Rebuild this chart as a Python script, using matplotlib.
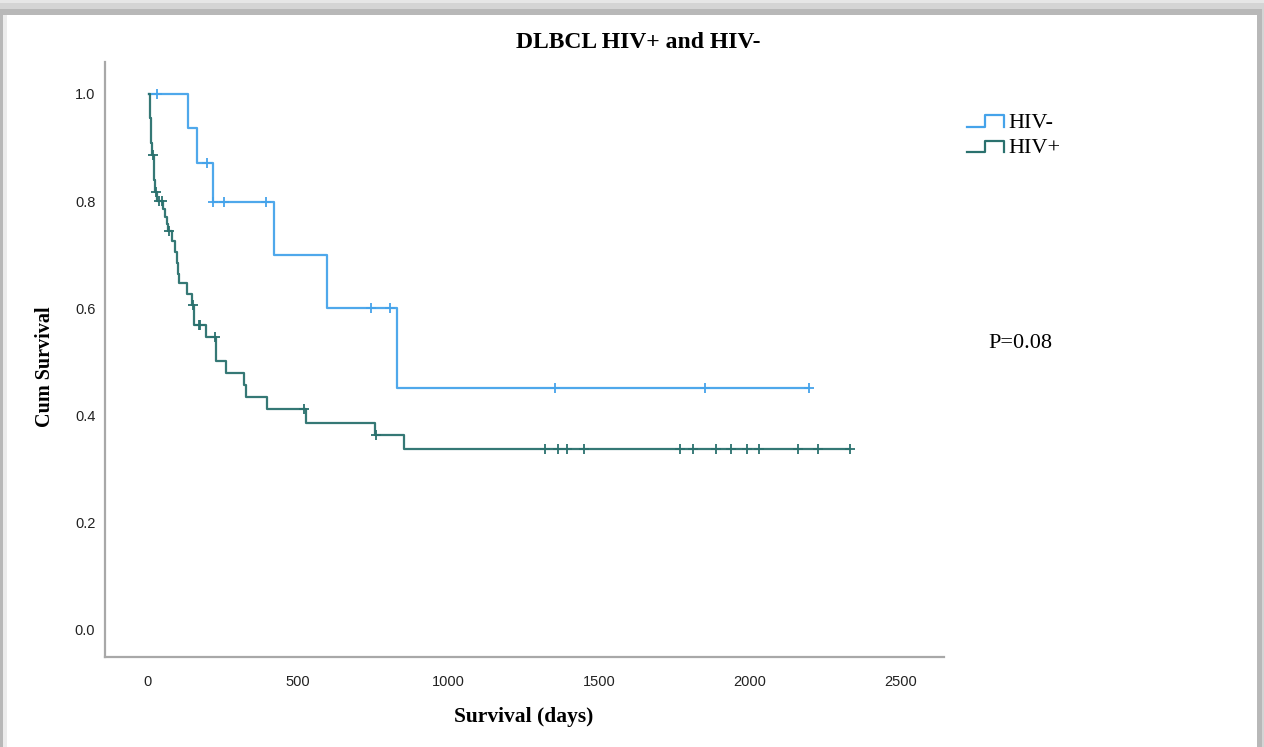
import matplotlib
matplotlib.use("Agg")
import matplotlib.pyplot as plt
from matplotlib.patches import Rectangle
from matplotlib.lines import Line2D
from matplotlib.legend_handler import HandlerBase
import numpy as np


# Kaplan-Meier steps: time of each drop (days) and survival level after it
neg_time = [5, 135, 166, 218, 419, 595, 827]
neg_surv = [1.0, 0.937, 0.871, 0.799, 0.70, 0.60, 0.451]
neg_cens = [30, 196, 218, 254, 392, 741, 805, 1353, 1851, 2196]

pos_time = [5, 7, 9, 11, 13, 16, 21, 23, 26, 32, 52, 58, 64, 69, 80, 90, 98,
            102, 106, 132, 148, 155, 195, 226, 259, 321, 326, 397, 527, 755, 850]
pos_surv = [1.0, 0.977, 0.955, 0.932, 0.909, 0.886, 0.863, 0.84, 0.817, 0.80,
            0.785, 0.77, 0.757, 0.745, 0.725, 0.705, 0.685, 0.665, 0.647,
            0.627, 0.606, 0.569, 0.547, 0.502, 0.479, 0.457, 0.435, 0.412,
            0.387, 0.364, 0.338]
pos_cens = [19, 27, 38, 47, 72, 150, 170, 174, 224, 519, 760,
            1318, 1364, 1393, 1448, 1768, 1812, 1888, 1938, 1990, 2029,
            2160, 2227, 2332]

groups = ["HIV-", "HIV+"]
colors = ["#45a3ea", "#2a716e"]


def survAt(times, surv, t):
	# level of the step curve at time t
	idx = np.searchsorted(times, t, side="right") - 1
	return surv[max(idx, 0)]


class StepHandler(HandlerBase):
	# little step glyph for the legend, like the curves themselves
	def create_artists(self, legend, orig_handle, xdescent, ydescent,
			width, height, fontsize, trans):
		xs = np.array([0.0, 0.5, 0.5, 1.0, 1.0]) * width - xdescent
		ys = np.array([0.05, 0.05, 0.8, 0.8, 0.05]) * height - ydescent
		ln = Line2D(xs, ys, color=orig_handle.get_color(), lw=1.6)
		ln.set_transform(trans)
		return [ln]


fig = plt.figure(figsize=(12.64, 7.47), dpi=100)
fig.patch.set_facecolor("#d6d6d6")

#window-ish frame around the white chart area
W, H = 1264.0, 747.0
fig.patches.append(Rectangle((0, 0), 1, (H - 2.7) / H, transform=fig.transFigure,
	facecolor="#d4d4d4", edgecolor="none", zorder=-5))
fig.patches.append(Rectangle((0, 0), 1, 1, transform=fig.transFigure,
	facecolor="#e6e6e6", edgecolor="none", zorder=-6))
fig.patches.append(Rectangle((0, 0), 1262 / W, (H - 9.3) / H, transform=fig.transFigure,
	facecolor="#b8b8b8", edgecolor="none", zorder=-4))
fig.patches.append(Rectangle((2.5 / W, 0), (1257 - 2.5) / W, (H - 14.7) / H,
	transform=fig.transFigure, facecolor="#ececec", edgecolor="none", zorder=-3))
fig.patches.append(Rectangle((7 / W, 0), (1257 - 7) / W, (H - 14.7) / H,
	transform=fig.transFigure, facecolor="white", edgecolor="none", zorder=-2))

ax = fig.add_axes([105 / W, 90 / H, (943.5 - 105) / W, (685 - 90) / H])
ax.set_facecolor("none")

curves = [(neg_time, neg_surv, neg_cens), (pos_time, pos_surv, pos_cens)]
handles = []
for (times, surv, cens), name, col in zip(curves, groups, colors):
	endT = max(cens[-1], times[-1])
	xs = list(times) + [endT]
	ys = list(surv) + [surv[-1]]
	ln, = ax.step(xs, ys, where="post", color=col, lw=1.6, alpha=0.95, label=name)
	cy = [survAt(times, surv, c) for c in cens]
	ax.plot(cens, cy, linestyle="none", marker="+", markersize=7.5,
		markeredgewidth=1.3, color=col)
	handles.append(ln)

ax.set_xlim(-141, 2642)
ax.set_ylim(-0.0504, 1.0597)
ax.set_xticks([0, 500, 1000, 1500, 2000, 2500])
ax.set_yticks([0.0, 0.2, 0.4, 0.6, 0.8, 1.0])
ax.set_yticklabels(["0.0", "0.2", "0.4", "0.6", "0.8", "1.0"])

for s in ["top", "right"]:
	ax.spines[s].set_visible(False)
for s in ["left", "bottom"]:
	ax.spines[s].set_color("#a8a8a8")
	ax.spines[s].set_linewidth(1.6)

ax.tick_params(axis="both", length=0, labelsize=10.5, colors="#222222")
ax.tick_params(axis="y", pad=7)
ax.tick_params(axis="x", pad=13)
for lbl in ax.get_xticklabels() + ax.get_yticklabels():
	lbl.set_fontfamily("Liberation Sans")

serif = "Liberation Serif"
fig.text(638 / W, 1 - 43 / H, "DLBCL HIV+ and HIV-", ha="center", va="center",
	fontsize=17, fontweight="bold", family=serif)
fig.text(524 / W, 1 - 717 / H, "Survival (days)", ha="center", va="center",
	fontsize=15.5, fontweight="bold", family=serif)
fig.text(45 / W, 1 - 367 / H, "Cum Survival", ha="center", va="center",
	rotation=90, fontsize=14.5, fontweight="bold", family=serif)
fig.text(1020 / W, 1 - 344 / H, "P=0.08", ha="center", va="center",
	fontsize=16, family=serif)

leg = fig.legend(handles, groups, loc="upper left",
	bbox_to_anchor=(967 / W, 1 - 112 / H), frameon=False,
	handler_map={Line2D: StepHandler()}, handlelength=1.65, handletextpad=0.2,
	labelspacing=0.22, borderpad=0, borderaxespad=0,
	prop={"family": serif, "size": 16})

fig.savefig("out.png", dpi=100, facecolor=fig.get_facecolor())
